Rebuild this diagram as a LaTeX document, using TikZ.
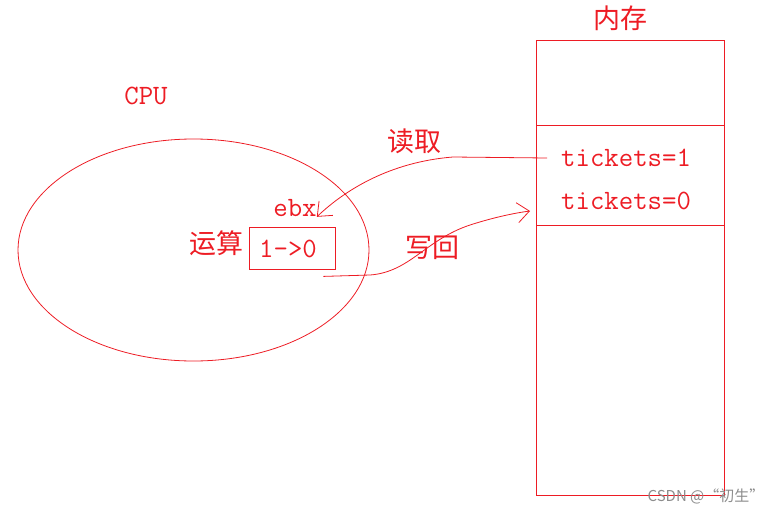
\documentclass[tikz,border=0pt]{standalone}
\usepackage{fontspec}
\newfontfamily\cjk{Noto Sans CJK SC}
\usetikzlibrary{arrows.meta}
\definecolor{penred}{RGB}{237,28,36}
\begin{document}
\begin{tikzpicture}[x=1pt,y=-1pt,
    pen/.style={draw=penred, line width=0.8pt},
    arr/.style={pen, -{Straight Barb[length=12pt,width=20pt]}},
    lbl/.style={text=penred, inner sep=0pt},
    latin/.style={lbl, font=\fontsize{28}{30}\selectfont\ttfamily},
    han/.style={lbl, font=\fontsize{27}{30}\selectfont\cjk}]
    \useasboundingbox (0,0) rectangle (778,514);
    % memory
    \node[pen, anchor=north west, inner sep=0pt,
        minimum width=188, minimum height=455] (mem) at (536,40) {};
    \draw[pen] (536,125) -- (724,125);
    \draw[pen] (536,225) -- (724,225);
    \node[han] (memlabel) at (620,18) {内存};
    \node[latin, anchor=west] (t1) at (561,158) {tickets=1};
    \node[latin, anchor=west] (t0) at (561,201) {tickets=0};

    % cpu
    \draw[pen] (193.5,250) ellipse [x radius=175.5, y radius=111];
    \node[latin] (cpulabel) at (146,96) {CPU};
    \node[pen, inner sep=0pt, minimum width=86, minimum height=42] (ebxbox) at (292,248) {};
    \node[latin] (value) at (288,249) {1->0};
    \node[latin] (ebx) at (295,208) {ebx};
    \node[han] (calc) at (216,243) {运算};

    % read / write back
    \node[han] (readlbl) at (414,141) {读取};
    \node[han] (writelbl) at (432,248) {写回};
    \coordinate (rdbend) at (453,157);
    \coordinate (wbbend) at (370,275);
    \coordinate (wbtip) at (530,211);
    \draw[arr] ([xshift=-14pt]t1.west) -- (rdbend)
        .. controls (390,162) and (345,190) .. (ebx.south east);
    \draw[arr] ([shift={(-12,7)}]ebxbox.south east) -- (wbbend)
        .. controls (410,272) and (425,240) .. (470,225)
        .. controls (495,217) and (515,213) .. (wbtip);

    \node[text=gray!90, inner sep=0pt, font=\fontsize{15}{17}\selectfont\cjk] (mark) at (706,496) {CSDN @“初生”};
\end{tikzpicture}
\end{document}
